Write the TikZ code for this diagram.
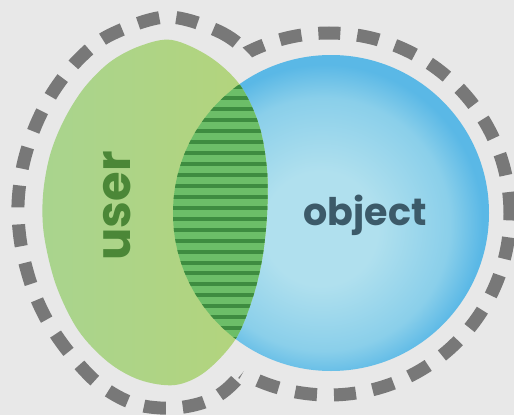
\documentclass[tikz,border=0pt]{standalone}
\usepackage{fontspec}
\setmainfont{Poppins}
\definecolor{bg}{HTML}{E8E8E8}
\definecolor{dashgray}{HTML}{787878}
\definecolor{greenL}{HTML}{A9D48E}
\definecolor{greenR}{HTML}{B4D47B}
\definecolor{blueIn}{HTML}{B0E0EE}
\definecolor{blueMid}{HTML}{8ACFEA}
\definecolor{blueOut}{HTML}{5AB8E6}
\definecolor{stripeD}{HTML}{3E8C40}
\definecolor{stripeL}{HTML}{6CBE68}
\definecolor{userC}{HTML}{4B8737}
\definecolor{objC}{HTML}{3C5A69}
\pgfdeclareradialshading{bluesh}{\pgfpoint{-2bp}{-3bp}}{color(0bp)=(blueIn); color(9bp)=(blueIn); color(20bp)=(blueMid); color(25bp)=(blueOut); color(50bp)=(blueOut)}
\def\greenpath{plot[smooth cycle, tension=0.55] coordinates {(172,40) (210,57) (240,85) (259,125) (267,170) (267,215) (262,260) (252,300) (235,340) (205,372) (175,385) (140,380) (108,362) (78,330) (56,285) (44,235) (43,195) (50,155) (64,120) (84,88) (110,62) (140,46)}}
\def\goffpath{plot[smooth cycle, tension=0.55] coordinates {(166,17) (218,31) (250,55) (276,95) (291,155) (294,215) (288,280) (268,335) (239,377) (212,399) (175,408) (135,404) (100,385) (71,355) (48,322) (32,287) (21,245) (18,205) (23,165) (35,127) (53,92) (78,60) (110,35)}}
\def\bluepath{(331,213) circle[radius=158pt]}
\def\boffpath{(329,214) circle[radius=181pt]}
\tikzset{
  dashline/.style={draw=dashgray, line width=13pt, dash pattern=on 22pt off 17pt, line cap=butt},
  label/.style={inner sep=0pt, font=\bfseries}
}
\begin{document}
\begin{tikzpicture}[x=1pt,y=-1pt]
\useasboundingbox (0,0) rectangle (514,415);
\fill[bg] (0,0) rectangle (514,415);
% dashed outline
\begin{scope}[even odd rule]
  \clip (-20,-20) rectangle (540,440) \goffpath;
  \draw[dashline] \boffpath;
\end{scope}
\begin{scope}[even odd rule]
  \clip (-20,-20) rectangle (540,440) \boffpath;
  \draw[dashline] \goffpath;
\end{scope}
% shapes
\shade[shading=bluesh] \bluepath;
\shade[left color=greenL, right color=greenR] \greenpath;
\begin{scope}
  \clip \bluepath;
  \clip \greenpath;
  \fill[stripeL] (140,70) rectangle (300,360);
  \foreach \k in {0,...,24}
    \draw[stripeD, line width=4pt] (140,{87.3+10.95*\k}) -- (300,{87.3+10.95*\k});
\end{scope}
\node[label, text=userC, rotate=90, font=\bfseries\fontsize{48}{48}\selectfont] (user) at (117.5,206) {user};
\node[label, text=objC, font=\bfseries\fontsize{38}{38}\selectfont] (object) at (365,215) {object};
\end{tikzpicture}
\end{document}
